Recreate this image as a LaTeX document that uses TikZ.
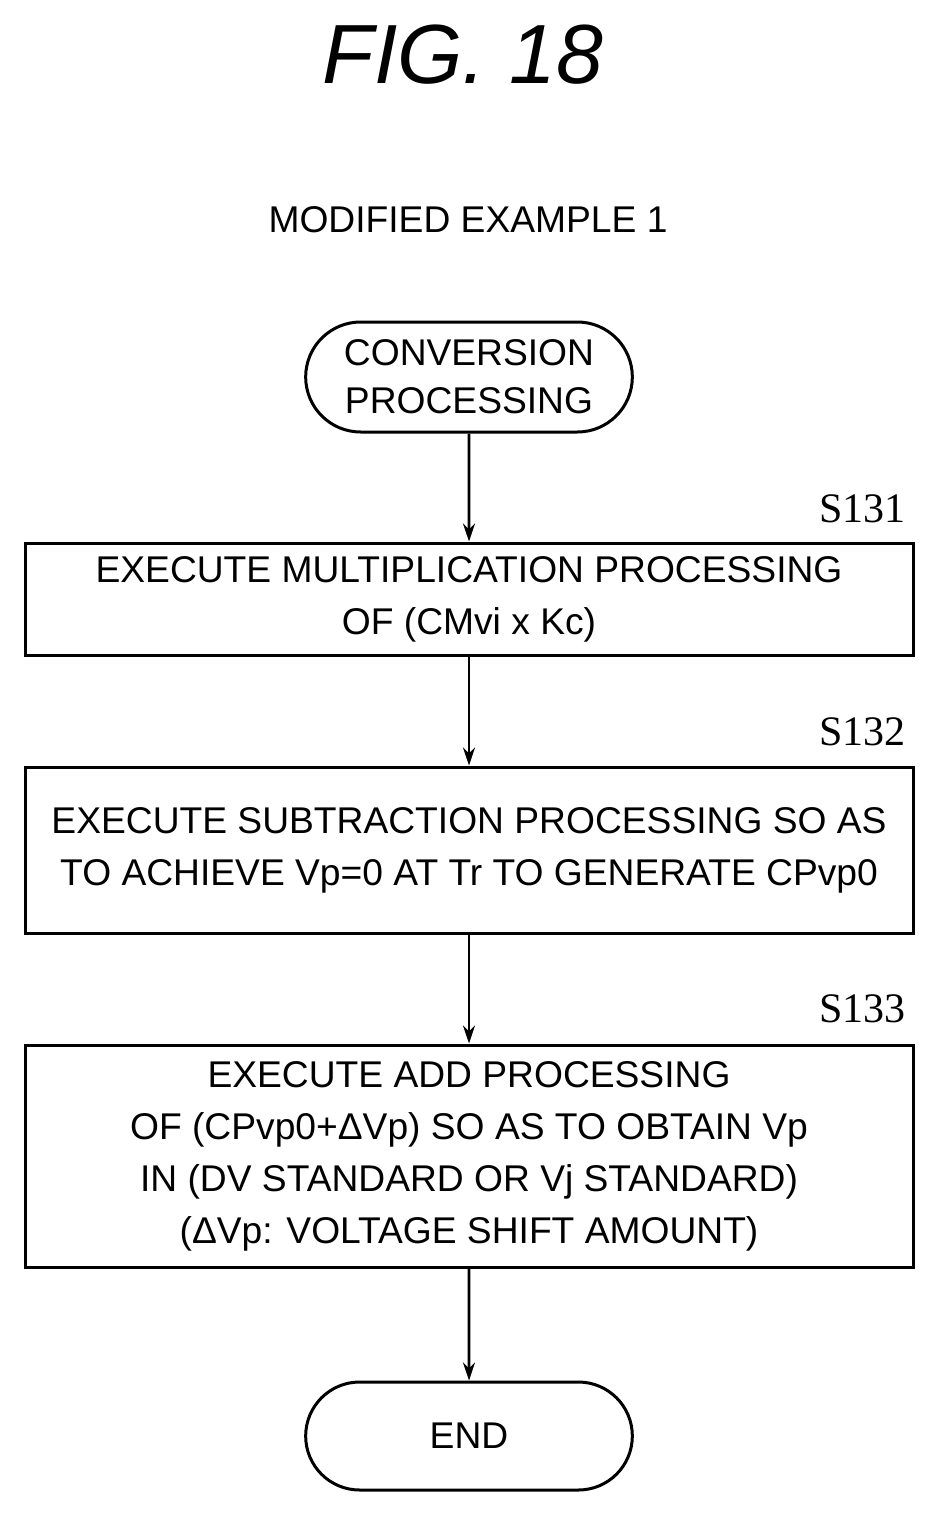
\documentclass[tikz,border=0pt]{standalone}
\usepackage{fontspec}
\setmainfont{Liberation Sans}
\newfontfamily\stepfont{Liberation Serif}
\usetikzlibrary{positioning,shapes.misc,arrows.meta}

\tikzset{
  box/.style={draw, line width=1.5pt, minimum width=444pt, align=center, font=\fontsize{18.6}{26}\selectfont},
  term/.style={draw, line width=1.5pt, rounded rectangle, minimum width=170pt, minimum height=55pt, align=center, font=\fontsize{18.6}{24}\selectfont},
  steplabel/.style={font=\stepfont\fontsize{21}{21}\selectfont, anchor=south east},
  flow/.style={-{Stealth[length=9pt,width=6pt]}, line width=1.3pt}
}

\begin{document}
\begin{tikzpicture}[x=0.5pt, y=-0.5pt]
\useasboundingbox (0,0) rectangle (936,1514);
\node (title) at (463,55) {\fontsize{42}{42}\selectfont\itshape FIG. 18};
\node (mode) at (468,220) {\fontsize{18.6}{18}\selectfont MODIFIED EXAMPLE 1};

\node (start) [term] at (469,377) {CONVERSION\\PROCESSING};
\node (s131) [box, minimum height=56pt] at (469,599) {EXECUTE MULTIPLICATION PROCESSING\\OF (CMvi x Kc)};
\node (s132) [box, minimum height=83pt] at (469,850) {EXECUTE SUBTRACTION PROCESSING SO AS\\TO ACHIEVE Vp=0 AT Tr TO GENERATE CPvp0};
\node (s133) [box, minimum height=111pt] at (469,1156) {EXECUTE ADD PROCESSING\\OF (CPvp0+ΔVp) SO AS TO OBTAIN Vp\\IN (DV STANDARD OR Vj STANDARD)\\(ΔVp: VOLTAGE SHIFT AMOUNT)};
\node (end) [term, minimum height=54pt] at (469,1436) {END};

% step numbers
\node [steplabel] at (913,530) {S131};
\node [steplabel] at (913,753) {S132};
\node [steplabel] at (913,1030) {S133};

\draw [flow] (start) -- (s131);
\draw [flow] (s131) -- (s132);
\draw [flow] (s132) -- (s133);
\draw [flow] (s133) -- (end);
\end{tikzpicture}
\end{document}
